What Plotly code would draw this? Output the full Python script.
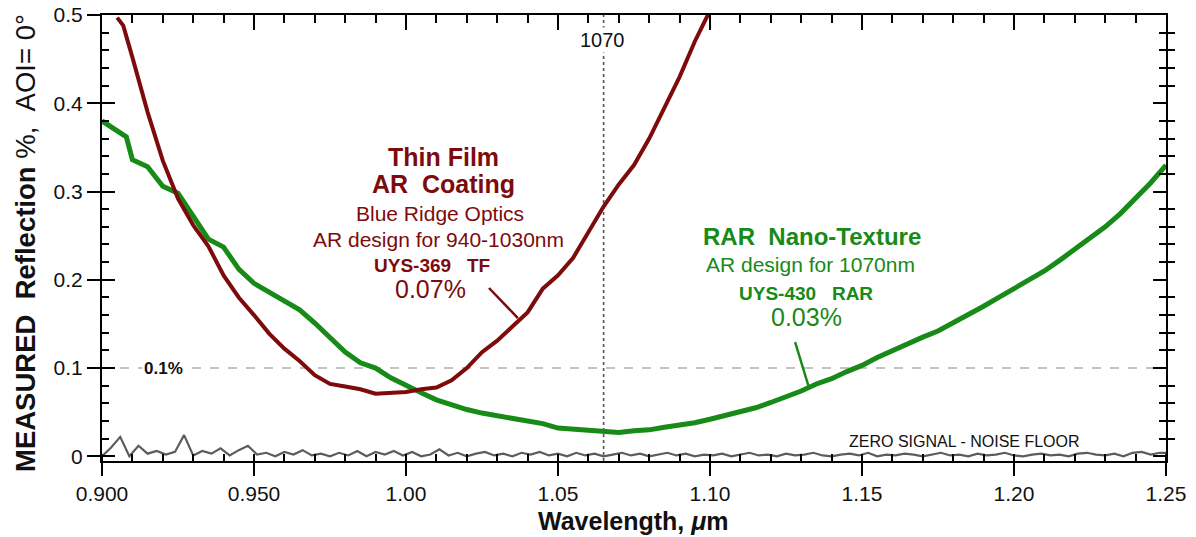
import plotly.graph_objects as go

# ---------------- data ----------------
tf_wavelength = [0.905, 0.907, 0.910, 0.915, 0.920, 0.925, 0.930, 0.935, 0.940, 0.945,
                 0.950, 0.955, 0.960, 0.965, 0.970, 0.975, 0.980, 0.985, 0.990, 0.995,
                 1.000, 1.005, 1.010, 1.015, 1.020, 1.025, 1.030, 1.035, 1.040, 1.045,
                 1.050, 1.055, 1.060, 1.065, 1.070, 1.075, 1.080, 1.085, 1.090, 1.095, 1.100]
tf_reflect = [0.497, 0.488, 0.452, 0.390, 0.335, 0.292, 0.262, 0.238, 0.205, 0.180,
              0.160, 0.139, 0.122, 0.108, 0.092, 0.082, 0.079, 0.076, 0.071, 0.072,
              0.073, 0.076, 0.078, 0.086, 0.100, 0.118, 0.131, 0.147, 0.163, 0.190,
              0.205, 0.225, 0.255, 0.283, 0.308, 0.330, 0.360, 0.395, 0.430, 0.470, 0.505]

rar_wavelength = [0.900, 0.905, 0.908, 0.910, 0.915, 0.920, 0.925, 0.930, 0.935, 0.940,
                  0.945, 0.950, 0.955, 0.960, 0.965, 0.970, 0.975, 0.980, 0.985, 0.990,
                  0.995, 1.000, 1.005, 1.010, 1.015, 1.020, 1.025, 1.030, 1.035, 1.040,
                  1.045, 1.050, 1.055, 1.060, 1.065, 1.070, 1.075, 1.080, 1.085, 1.090,
                  1.095, 1.100, 1.105, 1.110, 1.115, 1.120, 1.125, 1.130, 1.135, 1.140,
                  1.145, 1.150, 1.155, 1.160, 1.165, 1.170, 1.175, 1.180, 1.185, 1.190,
                  1.195, 1.200, 1.205, 1.210, 1.215, 1.220, 1.225, 1.230, 1.235, 1.240,
                  1.245, 1.250]
rar_reflect = [0.380, 0.368, 0.362, 0.336, 0.328, 0.306, 0.298, 0.272, 0.246, 0.237,
               0.212, 0.196, 0.186, 0.177, 0.166, 0.151, 0.134, 0.118, 0.106, 0.100,
               0.089, 0.080, 0.072, 0.064, 0.058, 0.053, 0.049, 0.046, 0.044, 0.040,
               0.037, 0.032, 0.031, 0.030, 0.028, 0.027, 0.029, 0.030, 0.033, 0.035,
               0.038, 0.042, 0.046, 0.050, 0.055, 0.061, 0.067, 0.074, 0.082, 0.088,
               0.096, 0.103, 0.112, 0.120, 0.128, 0.135, 0.142, 0.151, 0.160, 0.170,
               0.180, 0.190, 0.200, 0.210, 0.222, 0.235, 0.247, 0.260, 0.275, 0.292,
               0.310, 0.330]

noise_wavelength = [0.900, 0.903, 0.906, 0.909, 0.912, 0.915, 0.918, 0.921, 0.924, 0.927,
                    0.930, 0.933, 0.936, 0.939, 0.942, 0.945, 0.948, 0.951, 0.954, 0.957,
                    0.960, 0.963, 0.966, 0.969, 0.972, 0.975, 0.978, 0.981, 0.984, 0.987,
                    0.990, 0.993, 0.996, 0.999, 1.002, 1.005, 1.008, 1.011, 1.014, 1.017,
                    1.020, 1.023, 1.026, 1.029, 1.032, 1.035, 1.038, 1.041, 1.044, 1.047,
                    1.050, 1.053, 1.056, 1.059, 1.062, 1.065, 1.068, 1.071, 1.074, 1.077,
                    1.080, 1.083, 1.086, 1.089, 1.092, 1.095, 1.098, 1.101, 1.104, 1.107,
                    1.110, 1.113, 1.116, 1.119, 1.122, 1.125, 1.128, 1.131, 1.134, 1.137,
                    1.140, 1.143, 1.146, 1.149, 1.152, 1.155, 1.158, 1.161, 1.164, 1.167,
                    1.170, 1.173, 1.176, 1.179, 1.182, 1.185, 1.188, 1.191, 1.194, 1.197,
                    1.200, 1.203, 1.206, 1.209, 1.212, 1.215, 1.218, 1.221, 1.224, 1.227,
                    1.230, 1.233, 1.236, 1.239, 1.242, 1.245, 1.248, 1.250]
noise_reflect = [0.000, 0.010, 0.022, 0.000, 0.012, 0.003, 0.006, 0.002, 0.005, 0.024,
                 0.001, 0.006, 0.003, 0.009, 0.001, 0.007, 0.012, 0.002, 0.004, 0.000,
                 0.005, 0.002, 0.007, 0.001, 0.003, 0.000, 0.004, 0.001, 0.006, 0.000,
                 0.005, 0.002, 0.006, 0.001, 0.005, 0.000, 0.002, 0.008, 0.001, 0.004,
                 0.000, 0.003, 0.005, 0.001, 0.003, 0.000, 0.004, 0.002, 0.005, 0.001,
                 0.003, 0.000, 0.004, 0.001, 0.003, 0.000, 0.002, 0.004, 0.001, 0.003,
                 0.000, 0.002, 0.004, 0.001, 0.003, 0.000, 0.002, 0.001, 0.003, 0.000,
                 0.002, 0.004, 0.001, 0.002, 0.000, 0.003, 0.001, 0.002, 0.004, 0.001,
                 0.000, 0.002, 0.003, 0.001, 0.004, 0.000, 0.002, 0.001, 0.003, 0.002,
                 0.000, 0.002, 0.004, 0.001, 0.002, 0.000, 0.003, 0.001, 0.002, 0.004,
                 0.001, 0.000, 0.002, 0.003, 0.001, 0.002, 0.000, 0.003, 0.004, 0.002,
                 0.001, 0.003, 0.000, 0.004, 0.005, 0.002, 0.004, 0.004]

x_tickvals = [0.90, 0.95, 1.00, 1.05, 1.10, 1.15, 1.20, 1.25]
x_ticktext = ["0.900", "0.950", "1.00", "1.05", "1.10", "1.15", "1.20", "1.25"]
y_tickvals = [0.0, 0.1, 0.2, 0.3, 0.4, 0.5]
y_ticktext = ["0", "0.1", "0.2", "0.3", "0.4", "0.5"]
y_minor_vals = [0.02, 0.04, 0.06, 0.08, 0.12, 0.14, 0.16, 0.18, 0.22, 0.24, 0.26, 0.28,
                0.32, 0.34, 0.36, 0.38, 0.42, 0.44, 0.46, 0.48]

# ---------------- style ----------------
RED = "#7d0b0b"
GREEN = "#178a17"
FONT = "Liberation Sans, Arial, Helvetica, sans-serif"
XR = [0.9, 1.25]
YR = [-0.0053, 0.5]
ML, MR, MT, MB = 102, 30, 15, 76
W, H = 1196, 537
PW, PH = W - ML - MR, H - MT - MB

fig = go.Figure()
fig.add_trace(go.Scatter(x=noise_wavelength, y=noise_reflect, mode="lines",
                         line=dict(color="#5c5c5c", width=2.2), showlegend=False))
fig.add_trace(go.Scatter(x=rar_wavelength, y=rar_reflect, mode="lines",
                         line=dict(color=GREEN, width=5), showlegend=False))
fig.add_trace(go.Scatter(x=tf_wavelength, y=tf_reflect, mode="lines",
                         line=dict(color=RED, width=4), showlegend=False))
# empty traces so the overlay axes are drawn
for xa, ya in [("x2", "y"), ("x", "y2"), ("x", "y3"), ("x", "y4")]:
    fig.add_trace(go.Scatter(x=[None], y=[None], xaxis=xa, yaxis=ya,
                             showlegend=False, hoverinfo="skip"))

axis_common = dict(showgrid=False, zeroline=False, linecolor="black", linewidth=2,
                   tickcolor="black", tickwidth=2, automargin=False)

fig.update_layout(
    width=W, height=H,
    margin=dict(l=ML, r=MR, t=MT, b=MB, autoexpand=False),
    paper_bgcolor="white", plot_bgcolor="white",
    font=dict(family=FONT, color="#111111"),
    xaxis=dict(range=XR, showline=True, ticks="outside", ticklen=13,
               tickmode="array", tickvals=x_tickvals, ticktext=x_ticktext,
               tickfont=dict(size=21, color="#111"),
               minor=dict(tickmode="linear", tick0=0.9, dtick=0.01, ticks="inside",
                          ticklen=7, tickwidth=2, tickcolor="black"),
               **axis_common),
    xaxis2=dict(range=XR, overlaying="x", side="top", anchor="y", showline=True,
                ticks="inside", ticklen=15, tickmode="array", tickvals=x_tickvals,
                showticklabels=False,
                minor=dict(tickmode="linear", tick0=0.9, dtick=0.01, ticks="inside",
                           ticklen=8, tickwidth=2, tickcolor="black"),
                **axis_common),
    yaxis=dict(range=YR, showline=True, ticks="outside", ticklen=13,
               tickmode="array", tickvals=y_tickvals, ticktext=y_ticktext,
               tickfont=dict(size=21, color="#111"),
               minor=dict(tickmode="array", tickvals=y_minor_vals, ticks="inside",
                          ticklen=7, tickwidth=2, tickcolor="black"),
               **axis_common),
    yaxis3=dict(range=YR, overlaying="y", side="left", anchor="x", showline=False,
                ticks="inside", ticklen=13, tickmode="array", tickvals=y_tickvals,
                showticklabels=False, **axis_common),
    yaxis2=dict(range=YR, overlaying="y", side="right", anchor="x", showline=True,
                ticks="inside", ticklen=13, tickmode="array", tickvals=y_tickvals,
                showticklabels=False,
                minor=dict(tickmode="array", tickvals=y_minor_vals, ticks="inside",
                           ticklen=7, tickwidth=2, tickcolor="black"),
                **axis_common),
    yaxis4=dict(range=YR, overlaying="y", side="right", anchor="x", showline=False,
                ticks="outside", ticklen=8, tickmode="array", tickvals=y_minor_vals,
                showticklabels=False, **axis_common),
)

# reference lines
fig.add_shape(type="line", xref="x", yref="y", x0=0.9, x1=1.25, y0=0.1, y1=0.1,
              line=dict(color="#b0b0b0", width=1.6, dash="dash"), layer="below")
fig.add_shape(type="line", xref="x", yref="paper", x0=1.065, x1=1.065, y0=0, y1=1,
              line=dict(color="#555555", width=1.6, dash="dot"), layer="below")
# leader lines
fig.add_shape(type="line", xref="x", yref="y", x0=1.0273, y0=0.1907, x1=1.0368, y1=0.1567,
              line=dict(color=RED, width=2.5))
fig.add_shape(type="line", xref="x", yref="y", x0=1.1280, y0=0.1295, x1=1.1326, y1=0.0774,
              line=dict(color=GREEN, width=2.5))

def note(x, y, text, size, color, bold=False, bg=None):
    t = f"<b>{text}</b>" if bold else text
    fig.add_annotation(x=x, y=y, xref="x", yref="y", text=t, showarrow=False,
                       xanchor="center", yanchor="middle",
                       font=dict(size=size, color=color, family=FONT),
                       bgcolor=bg if bg else "rgba(0,0,0,0)", borderpad=1)

note(1.0646, 0.4712, "1070", 20, "#111", bg="white")
note(0.9201, 0.100, "0.1%", 17, "#111", bold=True, bg="white")
note(1.0122, 0.3391, "Thin Film", 25, RED, bold=True)
note(1.0122, 0.3085, "AR&nbsp;&nbsp;Coating", 25, RED, bold=True)
note(1.0112, 0.2751, "Blue Ridge Optics", 21, RED)
note(1.0107, 0.2462, "AR design for 940-1030nm", 21, RED)
note(1.0086, 0.2167, "UYS-369&nbsp;&nbsp;&nbsp;TF", 19, RED, bold=True)
note(1.0082, 0.1895, "0.07%", 25, RED)
note(1.1336, 0.2490, "RAR&nbsp;&nbsp;Nano-Texture", 24, GREEN, bold=True)
note(1.1329, 0.2173, "AR design for 1070nm", 21, GREEN)
note(1.1316, 0.1850, "UYS-430&nbsp;&nbsp;&nbsp;RAR", 19, GREEN, bold=True)
note(1.1316, 0.1573, "0.03%", 25, GREEN)
note(1.1837, 0.0168, "ZERO SIGNAL - NOISE FLOOR", 16, "#111")

# axis titles (positions in pixels converted to paper fractions)
def px_to_paper(px, py):
    return (px - ML) / PW, (H - MB - py) / PH

tx, ty = px_to_paper(633, 521)
fig.add_annotation(xref="paper", yref="paper", x=tx, y=ty,
                   text="<b>Wavelength, <i>μ</i>m</b>", showarrow=False,
                   xanchor="center", yanchor="middle",
                   font=dict(size=25, color="#111", family=FONT))
tx, ty = px_to_paper(26, 243)
fig.add_annotation(xref="paper", yref="paper", x=tx, y=ty,
                   text="<b>MEASURED&nbsp;&nbsp;Reflection</b> %,&nbsp;&nbsp;AOI=&nbsp;0°",
                   textangle=-90, showarrow=False, xanchor="center", yanchor="middle",
                   font=dict(size=27.5, color="#111", family=FONT))

fig.write_html("out.html")
